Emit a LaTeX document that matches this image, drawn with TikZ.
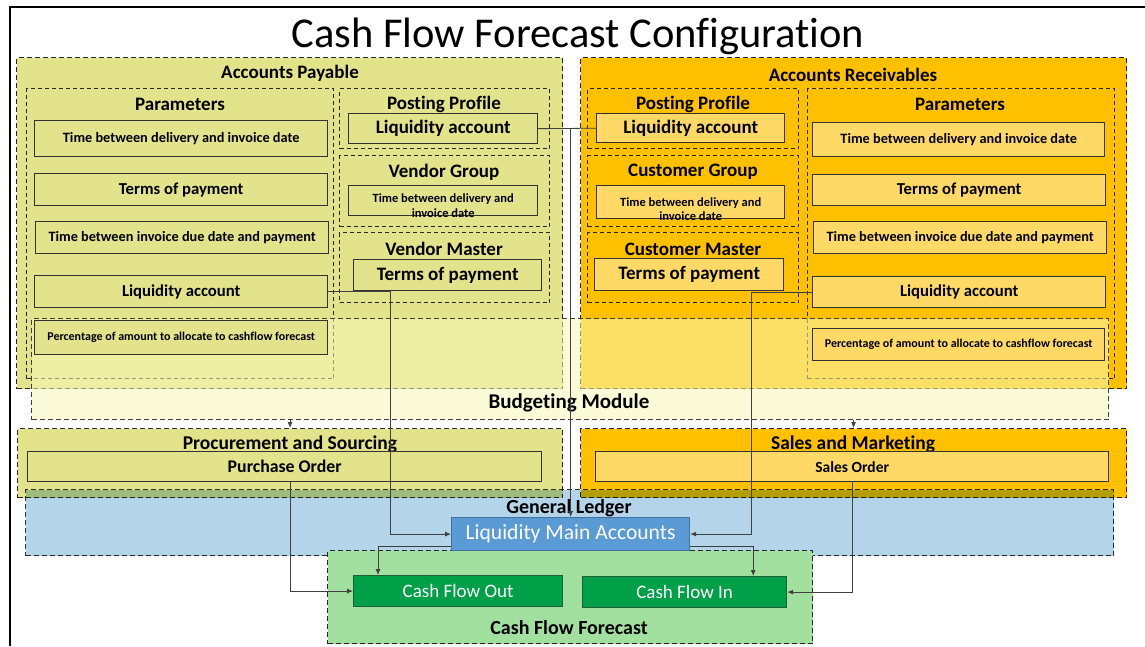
\documentclass[tikz,border=0pt]{standalone}
\usepackage{fontspec}
\setmainfont{Carlito}[Ligatures=NoCommon]
\usetikzlibrary{arrows.meta,calc}
\definecolor{apc}{HTML}{E2E38A}
\definecolor{arc}{HTML}{FFC000}
\definecolor{arin}{HTML}{FFD966}
\definecolor{budc}{HTML}{FBF9B9}
\definecolor{glc}{HTML}{B4D4EA}
\definecolor{lmac}{HTML}{5B9BD5}
\definecolor{lmab}{HTML}{41719C}
\definecolor{cffc}{HTML}{A1E09F}
\definecolor{cfc}{HTML}{00A048}
\definecolor{cfb}{HTML}{1F5F35}
\newcommand\fs[2]{\fontsize{#1}{#2}\selectfont}
\tikzset{
  cont/.style={draw=black!85, dash pattern=on 5pt off 3pt, line width=1.1pt, anchor=north west, inner sep=0pt},
  sub/.style={draw=black!85, dash pattern=on 4pt off 3pt, line width=1pt, anchor=north west, inner sep=0pt},
  item/.style={draw=black!80, line width=1.4pt, anchor=north west, inner sep=0pt, align=center, font=\bfseries},
  lbl/.style={font=\bfseries, inner sep=0pt},
  conn/.style={draw=black!75, line width=0.8pt},
  arr/.style={conn, -{Latex[length=6pt,width=5pt]}},
  cfbox/.style={draw=cfb, line width=1.2pt, fill=cfc, text=white, anchor=north west, inner sep=0pt, minimum width=#1, minimum height=31pt, font=\fs{19}{22}}
}
\begin{document}
\begin{tikzpicture}[x=1pt,y=-1pt]
\useasboundingbox (0,0) rectangle (1145,646);
\fill[white] (0,0) rectangle (1145,646);
\draw[line width=2.5pt] (10,646) -- (10,7) -- (1145,7);
\node[font=\fs{42.5}{48}] (title) at (578,36) {Cash Flow Forecast Configuration};

% Accounts Payable
\node[cont, fill=apc, minimum width=546pt, minimum height=331pt] (ap) at (16,57) {};
\node[lbl, font=\bfseries\fs{19}{22}] (aplbl) at (290,73) {Accounts Payable};
\node[sub, minimum width=307pt, minimum height=290pt] (appar) at (26,88) {};
\node[lbl, font=\bfseries\fs{19}{22}] (apparlbl) at (180,104) {Parameters};
\node[item, fill=apc, minimum width=293pt, minimum height=36pt, font=\bfseries\fs{14.3}{17}] (ap1) at (34,120) {Time between delivery and invoice date};
\node[item, fill=apc, minimum width=293pt, minimum height=32pt, font=\bfseries\fs{16.7}{20}] (ap2) at (34,173) {Terms of payment};
\node[item, fill=apc, minimum width=293pt, minimum height=32pt, font=\bfseries\fs{14.3}{17}] (ap3) at (35,221) {Time between invoice due date and payment};
\node[item, fill=apc, minimum width=293pt, minimum height=32pt, font=\bfseries\fs{16.7}{20}] (ap4) at (34,275) {Liquidity account};
\node[sub, minimum width=210pt, minimum height=60pt] (appp) at (339,88) {};
\node[lbl, font=\bfseries\fs{19}{22}] (appplbl) at (444,104) {Posting Profile};
\node[item, fill=apc, minimum width=189pt, minimum height=30pt, font=\bfseries\fs{19}{22}] (appl) at (348,113) {Liquidity account};
\node[sub, minimum width=210pt, minimum height=71pt] (apvg) at (339,155) {};
\node[lbl, font=\bfseries\fs{19}{22}] (apvglbl) at (444,172) {Vendor Group};
\node[item, fill=apc, minimum width=189pt, minimum height=30pt, font=\bfseries\fs{12.5}{14.5}] (apvgi) at (348,185) {\raisebox{-8pt}[0pt][0pt]{\parbox{185pt}{\centering Time between delivery and\\invoice date}}};
\node[sub, minimum width=210pt, minimum height=70pt] (apvm) at (339,232) {};
\node[lbl, font=\bfseries\fs{19}{22}] (apvmlbl) at (444,249) {Vendor Master};
\node[item, fill=apc, minimum width=188pt, minimum height=31pt, font=\bfseries\fs{19}{22}] (apvmi) at (353,259) {Terms of payment};

% Accounts Receivables
\node[cont, fill=arc, minimum width=546pt, minimum height=331pt] (ar) at (580,57) {};
\node[lbl, font=\bfseries\fs{19}{22}] (arlbl) at (853,75) {Accounts Receivables};
\node[sub, minimum width=211pt, minimum height=60pt] (arpp) at (587,88) {};
\node[lbl, font=\bfseries\fs{19}{22}] (arpplbl) at (693,104) {Posting Profile};
\node[item, fill=arin, minimum width=188pt, minimum height=29pt, font=\bfseries\fs{19}{22}] (arpl) at (596,113) {Liquidity account};
\node[sub, minimum width=211pt, minimum height=71pt] (arcg) at (587,155) {};
\node[lbl, font=\bfseries\fs{19}{22}] (arcglbl) at (693,172) {Customer Group};
\node[item, fill=arin, minimum width=188pt, minimum height=33pt, font=\bfseries\fs{12.5}{14.5}] (arcgi) at (596,185) {\raisebox{-10pt}[0pt][0pt]{\parbox{185pt}{\centering Time between delivery and\\invoice date}}};
\node[sub, minimum width=211pt, minimum height=70pt] (arcm) at (587,232) {};
\node[lbl, font=\bfseries\fs{19}{22}] (arcmlbl) at (693,249) {Customer Master};
\node[item, fill=arin, minimum width=189pt, minimum height=32pt, font=\bfseries\fs{19}{22}] (arcmi) at (594,258) {Terms of payment};
\node[sub, minimum width=307pt, minimum height=290pt] (arpar) at (807,88) {};
\node[lbl, font=\bfseries\fs{19}{22}] (arparlbl) at (960,104) {Parameters};
\node[item, fill=arin, minimum width=292pt, minimum height=34pt, font=\bfseries\fs{14.3}{17}] (ar1) at (812,122) {Time between delivery and invoice date};
\node[item, fill=arin, minimum width=293pt, minimum height=31pt, font=\bfseries\fs{16.7}{20}] (ar2) at (812,174) {Terms of payment};
\node[item, fill=arin, minimum width=293pt, minimum height=32pt, font=\bfseries\fs{14.3}{17}] (ar3) at (813,221) {Time between invoice due date and payment};
\node[item, fill=arin, minimum width=293pt, minimum height=31pt, font=\bfseries\fs{16.7}{20}] (ar4) at (812,276) {Liquidity account};

% Budgeting Module overlay
\node[cont, draw=black!75, fill=budc, fill opacity=0.55, minimum width=1077pt, minimum height=101pt] (bud) at (31,318) {};
\node[lbl, font=\bfseries\fs{21}{25}] (budlbl) at (569,403) {Budgeting Module};
\node[item, fill=apc, minimum width=293pt, minimum height=34pt, font=\bfseries\fs{12}{14}] (ap5) at (34,320) {Percentage of amount to allocate to cashflow forecast};
\node[item, fill=arin, minimum width=292pt, minimum height=32pt, font=\bfseries\fs{12}{14}] (ar5) at (812,328) {Percentage of amount to allocate to cashflow forecast};

% Procurement and Sales
\node[cont, fill=apc, minimum width=545pt, minimum height=69pt] (proc) at (17,428) {};
\node[lbl, font=\bfseries\fs{19.5}{22}] (proclbl) at (290,444) {Procurement and Sourcing};
\node[item, fill=apc, minimum width=514pt, minimum height=30pt, font=\bfseries\fs{17.8}{21}] (po) at (27,451) {Purchase Order};
\node[cont, fill=arc, minimum width=546pt, minimum height=69pt] (sales) at (580,428) {};
\node[lbl, font=\bfseries\fs{19.5}{22}] (saleslbl) at (853,444) {Sales and Marketing};
\node[item, fill=arin, minimum width=513pt, minimum height=30pt, font=\bfseries\fs{15.5}{18}] (so) at (595,451) {Sales Order};

% General Ledger
\begin{scope}[blend mode=multiply]
\node[cont, draw=black!80, fill=glc, minimum width=1088pt, minimum height=66pt] (gl) at (25,489) {};
\end{scope}
\node[lbl, font=\bfseries\fs{20}{24}] (gllbl) at (569,508) {General Ledger};

% Cash Flow Forecast
\node[cont, fill=cffc, minimum width=485pt, minimum height=93pt] (cff) at (327,550) {};
\node[lbl, font=\bfseries\fs{20}{24}] (cfflbl) at (569,628) {Cash Flow Forecast};
\node[draw=lmab, line width=1.2pt, fill=lmac, text=white, anchor=north west, inner sep=0pt, minimum width=238pt, minimum height=33pt, font=\fs{21.6}{25}] (lma) at (451,517) {Liquidity Main Accounts};
\node[cfbox=209pt] (cfo) at (353,575) {Cash Flow Out};
\node[cfbox=204pt] (cfi) at (582,576) {Cash Flow In};

% connectors
\draw[conn] (appl.east) -- (arpl.west);
\draw[arr] (appl.east) -| (lma.north);
\draw[arr] (ap4.east) -- ++(62,0) |- (lma.west);
\draw[arr] (ar4.west) -- ++(-61,0) |- (lma.east);
\draw[arr] ($(lma.south west)+(0,-5)$) -| ($(cfo.north west)+(25,0)$);
\draw[arr] ($(lma.south east)+(0,-5)$) -| ($(cfi.north east)+(-34,0)$);
\draw[arr] ($(po.south)+(6,0)$) |- (cfo.west);
\draw[arr] (so.south) |- (cfi.east);
\draw[arr] (proc.north |- bud.south) -- (proc.north);
\draw[arr] (sales.north |- bud.south) -- (sales.north);
\end{tikzpicture}
\end{document}
